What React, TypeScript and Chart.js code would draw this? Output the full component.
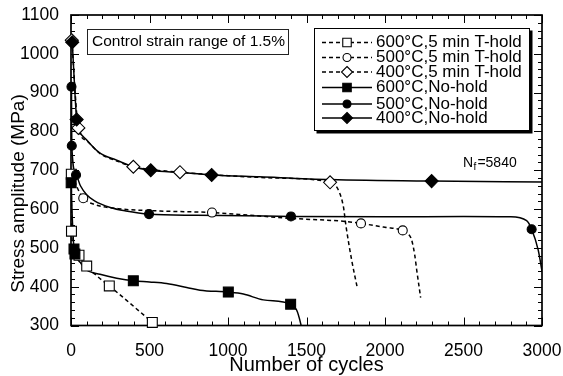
import React, { useEffect, useRef } from "react";
import { Chart, registerables } from "chart.js";

Chart.register(...registerables);

const FONT = "'Liberation Sans', Arial, Helvetica, sans-serif";

// ---- axis definitions ----
const xMin = 0;
const xMax = 3000;
const xMajor = 500;
const xMinor = 100;
const yMin = 300;
const yMax = 1100;
const yMajor = 100;
const yMinor = 20;

const seriesLabels = [
  "600°C,5 min T-hold",
  "500°C,5 min T-hold",
  "400°C,5 min T-hold",
  "600°C,No-hold",
  "500°C,No-hold",
  "400°C,No-hold",
];

// ---- 600°C, 5 min T-hold (open square, dashed) ----
const hold600Cycles = [2, 3, 4, 15, 51, 100, 164, 244, 330, 420, 518];
const hold600Stress = [690, 600, 543, 505, 481, 453, 428, 402, 373, 342, 308];
const hold600MarkCycles = [2, 3, 51, 100, 244, 518];
const hold600MarkStress = [690, 543, 481, 453, 402, 308];

// ---- 500°C, 5 min T-hold (open circle, dashed) ----
const hold500Cycles = [8, 40, 78, 150, 300, 567, 898, 1140, 1400, 1750, 1847, 2000, 2113, 2150, 2170, 2190, 2202, 2227];
const hold500Stress = [690, 655, 628, 612, 601, 595, 591, 584, 576, 568, 563, 553, 545, 535, 520, 480, 443, 372];
const hold500MarkCycles = [78, 898, 1847, 2113];
const hold500MarkStress = [628, 591, 563, 545];

// ---- 400°C, 5 min T-hold (open diamond, dashed) ----
const hold400Cycles = [5, 47, 100, 185, 291, 397, 694, 1000, 1300, 1650, 1703, 1735, 1752, 1788, 1824];
const hold400Stress = [1035, 809, 776, 743, 724, 709, 695, 686, 680, 669, 649, 606, 555, 468, 396];
const hold400MarkCycles = [5, 47, 397, 694, 1650];
const hold400MarkStress = [1035, 809, 709, 695, 669];

// ---- 600°C, No-hold (filled square, solid) ----
const noHold600Cycles = [1, 6, 19, 25, 60, 100, 185, 291, 397, 500, 609, 737, 822, 1002, 1098, 1225, 1399, 1437, 1463, 1475];
const noHold600Stress = [668, 600, 497, 484, 462, 443, 432, 422, 415, 412, 408, 398, 391, 386, 381, 366, 355, 340, 305, 280];
const noHold600MarkCycles = [1, 19, 25, 397, 1002, 1399];
const noHold600MarkStress = [668, 497, 484, 415, 386, 355];

// ---- 500°C, No-hold (filled circle, solid) ----
const noHold500Cycles = [3, 5, 32, 60, 100, 150, 250, 350, 497, 800, 1100, 1401, 2000, 2500, 2796, 2902, 2934, 2976, 3000];
const noHold500Stress = [915, 763, 688, 660, 637, 621, 604, 595, 587, 584, 583, 581, 580, 581, 580, 570, 548, 494, 440];
const noHold500MarkCycles = [3, 5, 32, 497, 1401, 2934];
const noHold500MarkStress = [915, 763, 688, 587, 581, 548];

// ---- 400°C, No-hold (filled diamond, solid) ----
const noHold400Cycles = [8, 36, 50, 100, 185, 291, 397, 508, 700, 896, 1200, 1650, 2297, 3000];
const noHold400Stress = [1030, 831, 805, 778, 744, 726, 709, 700, 694, 688, 683, 676, 672, 670];
const noHold400MarkCycles = [8, 36, 508, 896, 2297];
const noHold400MarkStress = [1030, 831, 700, 688, 672];

// ---- styles ----
const seriesDashed = [true, true, true, false, false, false];
const seriesShape = ["rect", "circle", "rectRot", "rect", "circle", "rectRot"];
const seriesFilled = [false, false, false, true, true, true];
const shapeRadius: Record<string, number> = { rect: 7, circle: 4.5, rectRot: 6.5 };
const legendRadius: Record<string, number> = { rect: 6, circle: 4, rectRot: 5.5 };

const curveX = [hold600Cycles, hold500Cycles, hold400Cycles, noHold600Cycles, noHold500Cycles, noHold400Cycles];
const curveY = [hold600Stress, hold500Stress, hold400Stress, noHold600Stress, noHold500Stress, noHold400Stress];
const markX = [hold600MarkCycles, hold500MarkCycles, hold400MarkCycles, noHold600MarkCycles, noHold500MarkCycles, noHold400MarkCycles];
const markY = [hold600MarkStress, hold500MarkStress, hold400MarkStress, noHold600MarkStress, noHold500MarkStress, noHold400MarkStress];

const zip = (xs: number[], ys: number[]) => xs.map((x, i) => ({ x, y: ys[i] }));

function drawMarker(ctx: CanvasRenderingContext2D, shape: string, x: number, y: number, r: number, filled: boolean) {
  ctx.beginPath();
  if (shape === "rect") {
    const s = Math.SQRT1_2 * r;
    ctx.rect(x - s, y - s, 2 * s, 2 * s);
  } else if (shape === "circle") {
    ctx.arc(x, y, r, 0, Math.PI * 2);
  } else {
    ctx.moveTo(x, y - r);
    ctx.lineTo(x + r, y);
    ctx.lineTo(x, y + r);
    ctx.lineTo(x - r, y);
    ctx.closePath();
  }
  ctx.fillStyle = filled ? "#000" : "#fff";
  ctx.fill();
  ctx.lineWidth = 1.1;
  ctx.strokeStyle = "#000";
  ctx.stroke();
}

const framePlugin = {
  id: "frame",
  beforeDatasetsDraw(chart: any) {
    const { ctx, chartArea: a, scales } = chart;
    const xs = scales.x;
    const ys = scales.y;
    ctx.save();
    ctx.strokeStyle = "#000";
    ctx.lineWidth = 1;
    ctx.beginPath();
    for (let v = xMin; v <= xMax; v += xMinor) {
      const px = Math.round(xs.getPixelForValue(v)) + 0.5;
      const len = v % xMajor === 0 ? 8 : 4;
      ctx.moveTo(px, a.bottom);
      ctx.lineTo(px, a.bottom - len);
      ctx.moveTo(px, a.top);
      ctx.lineTo(px, a.top + len);
    }
    for (let v = yMin; v <= yMax; v += yMinor) {
      const py = Math.round(ys.getPixelForValue(v)) + 0.5;
      const len = v % yMajor === 0 ? 8 : 4;
      ctx.moveTo(a.left, py);
      ctx.lineTo(a.left + len, py);
      ctx.moveTo(a.right, py);
      ctx.lineTo(a.right - len, py);
    }
    ctx.stroke();
    ctx.lineWidth = 1.7;
    ctx.strokeRect(a.left, a.top, a.right - a.left, a.bottom - a.top);
    ctx.restore();
  },
  afterDraw(chart: any) {
    const { ctx } = chart;
    ctx.save();
    // y axis title
    ctx.save();
    ctx.translate(18.7, 193.5);
    ctx.rotate(-Math.PI / 2);
    ctx.font = `19px ${FONT}`;
    ctx.fillStyle = "#000";
    ctx.textAlign = "center";
    ctx.textBaseline = "middle";
    ctx.fillText("Stress amplitude (MPa)", 0, 0);
    ctx.restore();

    // control strain box
    ctx.fillStyle = "#fff";
    ctx.fillRect(87, 29, 201, 25);
    ctx.strokeStyle = "#222";
    ctx.lineWidth = 1;
    ctx.strokeRect(87.5, 29.5, 201, 25);
    ctx.fillStyle = "#000";
    ctx.font = `15.5px ${FONT}`;
    ctx.textAlign = "left";
    ctx.textBaseline = "middle";
    ctx.fillText("Control strain range of 1.5%", 92, 42);

    // legend box with shadow
    const lx = 314, ly = 28, lw = 216, lh = 103;
    ctx.fillStyle = "#000";
    ctx.fillRect(lx + 2.5, ly + 2.5, lw, lh);
    ctx.fillStyle = "#fff";
    ctx.fillRect(lx, ly, lw, lh);
    ctx.lineWidth = 1;
    ctx.strokeStyle = "#000";
    ctx.strokeRect(lx + 0.5, ly + 0.5, lw - 1, lh - 1);
    const rows = [42.5, 57.5, 72, 87.5, 104, 118];
    seriesLabels.forEach((label, i) => {
      const y = rows[i];
      ctx.save();
      ctx.strokeStyle = "#000";
      ctx.lineWidth = 1.4;
      ctx.setLineDash(seriesDashed[i] ? [4, 3] : []);
      ctx.beginPath();
      ctx.moveTo(322, y);
      ctx.lineTo(372, y);
      ctx.stroke();
      ctx.setLineDash([]);
      drawMarker(ctx, seriesShape[i], 347, y, legendRadius[seriesShape[i]], seriesFilled[i]);
      ctx.restore();
      ctx.fillStyle = "#000";
      ctx.font = `17px ${FONT}`;
      ctx.textAlign = "left";
      ctx.textBaseline = "middle";
      ctx.fillText(label, 376, y);
    });

    // N_f annotation
    ctx.fillStyle = "#000";
    ctx.textBaseline = "alphabetic";
    ctx.font = `14px ${FONT}`;
    ctx.fillText("N", 463, 167);
    const nW = ctx.measureText("N").width;
    ctx.font = `10px ${FONT}`;
    ctx.fillText("f", 463 + nW + 0.5, 170);
    const fW = ctx.measureText("f").width;
    ctx.font = `14px ${FONT}`;
    ctx.fillText("=5840", 463 + nW + fW + 1.5, 167);
    ctx.restore();
  },
};

export default function App() {
  const ref = useRef<HTMLCanvasElement | null>(null);

  useEffect(() => {
    if (!ref.current) return;
    const markerSets = [3, 4, 5, 0, 1, 2].map((i) => ({
      label: seriesLabels[i] + " markers",
      data: zip(markX[i], markY[i]),
      showLine: false,
      pointStyle: seriesShape[i],
      pointRadius: shapeRadius[seriesShape[i]],
      pointHoverRadius: shapeRadius[seriesShape[i]],
      pointBackgroundColor: seriesFilled[i] ? "#000" : "#fff",
      pointBorderColor: "#000",
      pointBorderWidth: 1.1,
      clip: false as any,
    }));
    const lineSets = [3, 4, 5, 0, 1, 2].map((i) => ({
      label: seriesLabels[i],
      data: zip(curveX[i], curveY[i]),
      showLine: true,
      borderColor: "#000",
      borderWidth: 1.5,
      borderDash: seriesDashed[i] ? [4, 3] : [],
      pointRadius: 0,
      cubicInterpolationMode: "monotone" as const,
      fill: false,
    }));

    const chart = new Chart(ref.current, {
      type: "scatter",
      data: { datasets: [...markerSets, ...lineSets] as any },
      options: {
        animation: false,
        responsive: false,
        events: [],
        layout: { padding: { left: 0, top: 15, right: 21, bottom: 0 } },
        plugins: { legend: { display: false }, tooltip: { enabled: false } },
        scales: {
          x: {
            type: "linear",
            min: xMin,
            max: xMax,
            grid: { display: false },
            border: { display: false },
            ticks: {
              stepSize: xMajor,
              padding: 7,
              color: "#000",
              font: { family: FONT, size: 17.5 },
              maxRotation: 0,
              callback: (v: any) => String(v),
            },
            title: {
              display: true,
              text: "Number of cycles",
              color: "#000",
              font: { family: FONT, size: 20, lineHeight: 1 },
              padding: { top: 0, bottom: 1 },
            },
            afterFit: (s: any) => {
              s.height = 50.5;
              s.paddingLeft = 0;
              s.paddingRight = 0;
            },
          },
          y: {
            type: "linear",
            min: yMin,
            max: yMax,
            grid: { display: false },
            border: { display: false },
            ticks: {
              stepSize: yMajor,
              padding: 4,
              color: "#000",
              font: { family: FONT, size: 17.5 },
              callback: (v: any) => String(v),
            },
            afterFit: (s: any) => {
              s.width = 71;
              s.paddingTop = 0;
              s.paddingBottom = 0;
            },
          },
        },
      },
      plugins: [framePlugin],
    });
    return () => chart.destroy();
  }, []);

  return (
    <div style={{ position: "absolute", left: 0, top: 0, width: 563, height: 376, background: "#fff" }}>
      <canvas ref={ref} width={563} height={376} />
    </div>
  );
}
